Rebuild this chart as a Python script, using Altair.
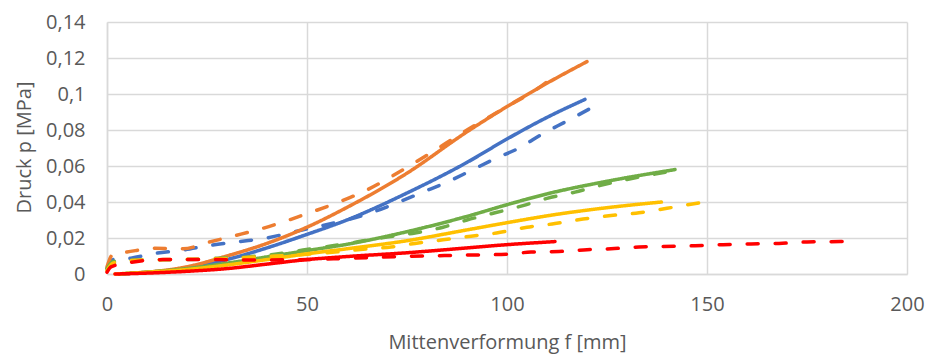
import altair as alt
import pandas as pd

# ---- data (f in mm, p in MPa) ----
blue_solid_x = [3, 10, 20, 30, 40, 50, 60, 75, 90, 100, 110, 119.5]
blue_solid_y = [0, 0.001, 0.003, 0.008, 0.0145, 0.022, 0.030, 0.045, 0.062, 0.075, 0.087, 0.097]

blue_dash_x = [0, 1.5, 6, 12, 18, 26, 33, 40, 46, 52, 58, 66, 73, 79, 85, 91, 97, 103, 109, 115, 122.5]
blue_dash_y = [0.003, 0.008, 0.0088, 0.0115, 0.013, 0.016, 0.018, 0.020, 0.023, 0.026, 0.029, 0.034,
               0.040, 0.0455, 0.051, 0.0575, 0.064, 0.070, 0.078, 0.085, 0.094]

orange_solid_x = [3, 10, 20, 30, 40, 50, 60, 75, 90, 100, 110, 120]
orange_solid_y = [0, 0.001, 0.004, 0.010, 0.017, 0.026, 0.037, 0.056, 0.079, 0.093, 0.106, 0.118]

orange_dash_x = [0, 1.5, 5, 12, 19, 25.5, 32, 39, 45.5, 50, 58, 65, 71, 80, 90, 100, 107, 113]
orange_dash_y = [0.004, 0.011, 0.0122, 0.0143, 0.014, 0.0177, 0.0213, 0.0254, 0.030, 0.0335, 0.040,
                 0.0467, 0.054, 0.066, 0.080, 0.093, 0.102, 0.112]

green_solid_x = [3, 10, 20, 30, 40, 50, 60, 75, 90, 100, 110, 125, 142]
green_solid_y = [0, 0.001, 0.003, 0.006, 0.0095, 0.013, 0.0165, 0.0235, 0.032, 0.0385, 0.0445, 0.0515, 0.058]

green_dash_x = [0, 1.5, 10, 20, 28, 35, 42, 49, 56, 63, 70, 77, 84, 90, 97, 104, 110, 117, 123, 130, 137, 141]
green_dash_y = [0.003, 0.007, 0.0078, 0.008, 0.0088, 0.0095, 0.011, 0.0133, 0.0155, 0.018, 0.0205, 0.0228,
                0.026, 0.030, 0.034, 0.038, 0.042, 0.0455, 0.049, 0.0525, 0.0555, 0.057]

yellow_solid_x = [2, 10, 20, 30, 40, 50, 60, 75, 90, 100, 112, 123, 138.6]
yellow_solid_y = [0, 0.001, 0.0025, 0.005, 0.008, 0.0112, 0.014, 0.0185, 0.0245, 0.0285, 0.033, 0.0363, 0.040]

yellow_dash_x = [0, 1.5, 6, 15, 28, 42, 50, 57, 64, 71, 77, 84, 91, 98, 105, 112, 119, 126, 133, 140, 148]
yellow_dash_y = [0.002, 0.006, 0.0075, 0.008, 0.0085, 0.010, 0.011, 0.0122, 0.0138, 0.015, 0.017, 0.019,
                 0.021, 0.023, 0.026, 0.028, 0.0305, 0.0325, 0.034, 0.0365, 0.0395]

red_solid_x = [2, 10, 20, 30, 40, 50, 60, 75, 90, 100, 112]
red_solid_y = [0, 0.0005, 0.0015, 0.003, 0.0055, 0.008, 0.0097, 0.0118, 0.0145, 0.0163, 0.018]

red_dash_x = [0, 1, 6, 14, 21, 28, 35, 50, 60, 75, 90, 100, 106, 113, 120, 126, 133, 139, 147, 154,
              161, 168, 175, 184]
red_dash_y = [0.001, 0.004, 0.0065, 0.008, 0.008, 0.008, 0.0078, 0.008, 0.0087, 0.0098, 0.0105, 0.011,
              0.0122, 0.0125, 0.0135, 0.014, 0.015, 0.0153, 0.0157, 0.0163, 0.0167, 0.017, 0.0178, 0.018]

series_names = ["blue_solid", "blue_dash", "orange_solid", "orange_dash", "green_solid", "green_dash",
                "yellow_solid", "yellow_dash", "red_solid", "red_dash"]
series_colors = ["#4472C4", "#4472C4", "#ED7D31", "#ED7D31", "#70AD47", "#70AD47",
                 "#FFC000", "#FFC000", "#FF0000", "#FF0000"]

x_ticks = [0, 50, 100, 150, 200]
y_ticks = [0, 0.02, 0.04, 0.06, 0.08, 0.1, 0.12, 0.14]

series_data = [
    ("blue_solid", "solid", blue_solid_x, blue_solid_y),
    ("blue_dash", "dashed", blue_dash_x, blue_dash_y),
    ("orange_solid", "solid", orange_solid_x, orange_solid_y),
    ("orange_dash", "dashed", orange_dash_x, orange_dash_y),
    ("green_solid", "solid", green_solid_x, green_solid_y),
    ("green_dash", "dashed", green_dash_x, green_dash_y),
    ("yellow_solid", "solid", yellow_solid_x, yellow_solid_y),
    ("yellow_dash", "dashed", yellow_dash_x, yellow_dash_y),
    ("red_solid", "solid", red_solid_x, red_solid_y),
    ("red_dash", "dashed", red_dash_x, red_dash_y),
]

rows = []
for name, style, xs, ys in series_data:
    for i, (xv, yv) in enumerate(zip(xs, ys)):
        rows.append({"series": name, "style": style, "i": i, "f": xv, "p": yv})
df = pd.DataFrame(rows)

FONT = "Open Sans"
GRAY = "#D9D9D9"
TEXT = "#595959"

chart = alt.Chart(df).mark_line(
    strokeWidth=3.5, strokeCap="round", strokeJoin="round", interpolate="monotone"
).encode(
    x=alt.X("f:Q", scale=alt.Scale(domain=[0, 200], nice=False),
            axis=alt.Axis(values=x_ticks, title="Mittenverformung f [mm]", labelPadding=20,
                          labelFlush=False, titleY=74, titleBaseline="alphabetic")),
    y=alt.Y("p:Q", scale=alt.Scale(domain=[0, 0.14], nice=False),
            axis=alt.Axis(values=y_ticks, title="Druck p [MPa]", labelPadding=22, labelFlush=False,
                          labelExpr="replace(toString(datum.value), '.', ',')",
                          titleX=-77, titleY=125, titleAngle=-90, titleAlign="center",
                          titleBaseline="alphabetic")),
    color=alt.Color("series:N", scale=alt.Scale(domain=series_names, range=series_colors), legend=None),
    strokeDash=alt.StrokeDash("style:N", scale=alt.Scale(domain=["solid", "dashed"], range=[[1, 0], [11, 17]]),
                              legend=None),
    detail="series:N",
    order="i:Q",
).properties(
    width=800, height=252,
    padding={"left": 107, "top": 22, "right": 21, "bottom": 82},
    autosize=alt.AutoSizeParams(type="none"),
).configure_view(stroke=None).configure_axis(
    domainColor=GRAY, domainWidth=1.5, gridColor=GRAY, gridWidth=1.5, ticks=False,
    labelFont=FONT, labelFontSize=20, labelColor=TEXT,
    titleFont=FONT, titleFontSize=20, titleColor=TEXT, titleFontWeight="normal",
)

chart.save("out.html", embed_options={"renderer": "svg", "actions": False})
